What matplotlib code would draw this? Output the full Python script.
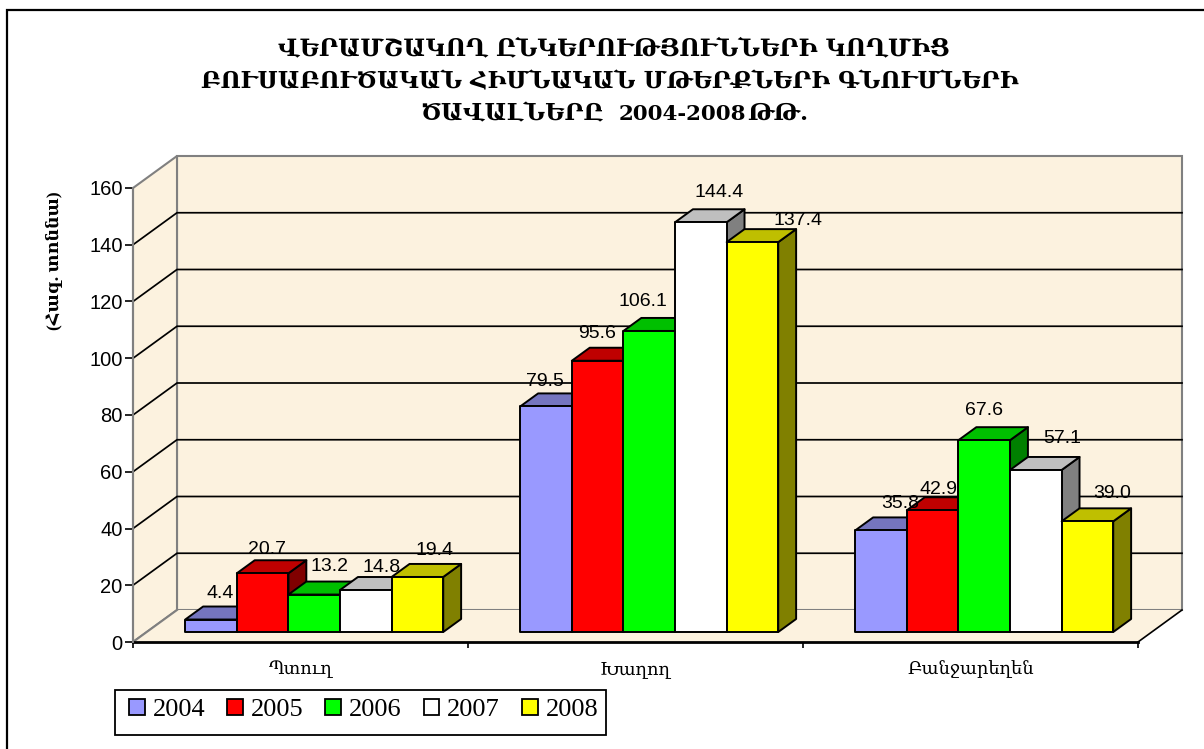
import matplotlib
matplotlib.use("Agg")
import matplotlib.pyplot as plt
from matplotlib.lines import Line2D
from matplotlib.patches import Polygon, Rectangle

W, H = 1204, 749
years = ["2004", "2005", "2006", "2007", "2008"]
categories = ["Պտուղ", "Խաղող", "Բանջարեղեն"]
pttugh = [4.4, 20.7, 13.2, 14.8, 19.4]
khaghogh = [79.5, 95.6, 106.1, 144.4, 137.4]
banjar = [35.8, 42.9, 67.6, 57.1, 39.0]
series_by_cat = [pttugh, khaghogh, banjar]
yticks = [0, 20, 40, 60, 80, 100, 120, 140, 160]
title_1 = "ՎԵՐԱՄՇԱԿՈՂ ԸՆԿԵՐՈՒԹՅՈՒՆՆԵՐԻ ԿՈՂՄԻՑ"
title_2 = "ԲՈՒՍԱԲՈՒԾԱԿԱՆ ՀԻՄՆԱԿԱՆ ՄԹԵՐՔՆԵՐԻ ԳՆՈՒՄՆԵՐԻ"
title_3a = "ԾԱՎԱԼՆԵՐԸ"
title_3b = "2004-2008"
title_3c = "ԹԹ."
ylabel = "(Հազ. տոննա)"

front = ["#9999FF", "#FF0000", "#00FF00", "#FFFFFF", "#FFFF00"]
top = ["#7575BF", "#BF0000", "#00BF00", "#BFBFBF", "#BFBF00"]
side = ["#4D4D80", "#800000", "#008000", "#808080", "#808000"]
wall = "#FCF2DF"
serif = ["Liberation Serif", "DejaVu Serif", "DejaVu Sans"]
sans = ["Liberation Sans", "DejaVu Sans"]

fig = plt.figure(figsize=(W / 100, H / 100), dpi=100)
L, R, T, B = 133, 1138, 188, 642
ax = fig.add_axes([L / W, 1 - B / H, (R - L) / W, (B - T) / H])
ax.set_xlim(-0.5, 2.5)
ax.set_ylim(0, 160)
px_x = 3 / (R - L)
px_y = 160 / (B - T)
DX, DY = 44 * px_x, 32 * px_y


def dep(x, y, d):
    return (x + d * DX, y + d * DY)


# frame: only the top and left rules are inside the picture
fig.add_artist(Line2D([7 / W, 7 / W, 1], [0, 1 - 10 / H, 1 - 10 / H], transform=fig.transFigure,
                      color="black", lw=1.6, solid_joinstyle="miter"))

x0, x1 = -0.5, 2.5
# walls
gray = "#808080"
ax.add_patch(Polygon([dep(x0, 0, 1), dep(x1, 0, 1), dep(x1, 160, 1), dep(x0, 160, 1)],
                     fc=wall, ec=gray, lw=1.5, clip_on=False, zorder=1))
ax.add_patch(Polygon([(x0, 0), dep(x0, 0, 1), dep(x0, 160, 1), (x0, 160)],
                     fc=wall, ec=gray, lw=1.5, clip_on=False, zorder=1))
ax.add_patch(Polygon([(x0, 0), (x1, 0), dep(x1, 0, 1), dep(x0, 0, 1)],
                     fc=wall, ec="none", clip_on=False, zorder=1))
ax.plot([x1, dep(x1, 0, 1)[0]], [0, DY], color="black", lw=1.2, clip_on=False, zorder=1.1)
ax.plot([x0, dep(x0, 0, 1)[0]], [0, DY], color=gray, lw=1.5, clip_on=False, zorder=1.1)
for v in yticks[1:-1]:
    ax.plot([x0, x0 + DX, x1 + DX], [v, v + DY, v + DY], color="black", lw=1.25,
            clip_on=False, zorder=1.2, solid_joinstyle="miter")

# bars
d1, d2 = 10 / 32, 23 / 32
bw = 51.6 * px_x
for c, vals in enumerate(series_by_cat):
    for i, v in enumerate(vals):
        xl = c - 2.5 * bw + i * bw
        xr = xl + bw
        z = 2 + c + i * 0.1
        kw = dict(ec="black", lw=1.4, clip_on=False, zorder=z, joinstyle="round")
        ax.add_patch(Polygon([dep(xr, 0, d1), dep(xr, 0, d2), dep(xr, v, d2), dep(xr, v, d1)],
                             fc=side[i], **kw))
        ax.add_patch(Polygon([dep(xl, v, d1), dep(xr, v, d1), dep(xr, v, d2), dep(xl, v, d2)],
                             fc=top[i], **kw))
        ax.add_patch(Polygon([dep(xl, 0, d1), dep(xr, 0, d1), dep(xr, v, d1), dep(xl, v, d1)],
                             fc=front[i], **kw))

# value labels: pixel offsets from the centre of each bar's front top edge
label_off = [[(9, -26), (4, -24), (15, -28), (16, -23), (17, -26)],
             [(-1, -25), (-1, -27), (-6, -29), (18, -30), (46, -22)],
             [(19, -27), (6, -21), (0, -30), (26, -31), (25, -28)]]
for c, vals in enumerate(series_by_cat):
    for i, v in enumerate(vals):
        xc = c - 2 * bw + i * bw
        x, y = dep(xc, v, d1)
        ax.annotate(f"{v:.1f}", (x, y), xytext=(label_off[c][i][0] * 0.72, -label_off[c][i][1] * 0.72),
                    textcoords="offset points", ha="center", va="center",
                    fontsize=14, family=sans, zorder=20, annotation_clip=False)

ax.patch.set_visible(False)
for s in ("top", "right"):
    ax.spines[s].set_visible(False)
ax.spines["bottom"].set_linewidth(2)
ax.spines["bottom"].set_zorder(1.5)
ax.spines["left"].set_color(gray)
ax.spines["left"].set_linewidth(1.5)
ax.set_yticks(yticks)
ax.set_xticks([-0.5, 0.5, 1.5, 2.5])
ax.set_xticklabels([])
ax.tick_params(axis="y", length=5.5, width=1.2, labelsize=14.5, pad=2)
ax.tick_params(axis="x", length=4.5, width=1.2)
for t in ax.get_yticklabels():
    t.set_family(sans)
for c, name in enumerate(categories):
    ax.annotate(name, (c, 0), xytext=(0, -19.5), textcoords="offset points", ha="center", va="center",
                fontsize=12.9, family=serif, annotation_clip=False)

fig.text(54 / W, 1 - 261 / H, ylabel, rotation=90, ha="center", va="center",
         fontsize=12.5, fontweight="bold", family=serif)

tkw = dict(va="baseline", fontweight="bold", family="DejaVu Serif")
fig.text(614 / W, 1 - 55 / H, title_1, ha="center", fontsize=17, **tkw)
fig.text(610 / W, 1 - 88 / H, title_2, ha="center", fontsize=16.8, **tkw)
fig.text(420 / W, 1 - 120 / H, title_3a, ha="left", fontsize=16.9, **tkw)
fig.text(619 / W, 1 - 120 / H, title_3b, ha="left", fontsize=15.4, **tkw)
fig.text(747 / W, 1 - 120 / H, title_3c, ha="left", fontsize=16.9, **tkw)

# legend frame drawn separately: its right padding is narrower than its left one
fig.add_artist(Rectangle((115 / W, 1 - 735 / H), 491 / W, 45 / H, transform=fig.transFigure,
                         fc="white", ec="black", lw=1.3, zorder=29))
handles = [Rectangle((0, 0), 1, 1, fc=f, ec="black", lw=1.3) for f in front]
leg = fig.legend(handles, years, ncol=5, loc="lower left",
                 bbox_to_anchor=(115 / W, 1 - 735 / H), bbox_transform=fig.transFigure,
                 prop={"family": serif, "size": 19}, frameon=False,
                 handlelength=0.6, handleheight=0.6, handletextpad=0.3,
                 columnspacing=0.83, borderpad=0.52, borderaxespad=0)
leg.set_zorder(30)

fig.savefig("out.png", dpi=100)
